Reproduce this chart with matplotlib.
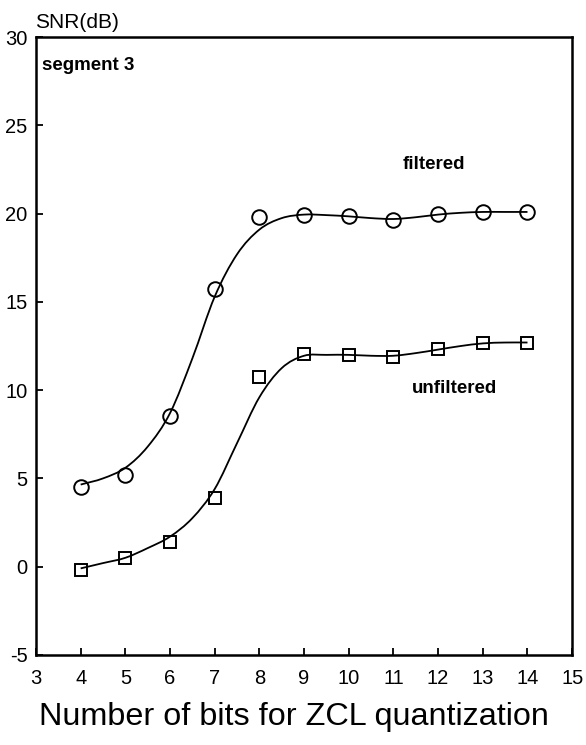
import numpy as np
import matplotlib.pyplot as plt
from matplotlib.path import Path
from matplotlib.patches import PathPatch

plt.rcParams['font.family'] = ['Liberation Sans', 'DejaVu Sans']
plt.rcParams['axes.unicode_minus'] = False

# measured SNR per number of bits
bits = [4, 5, 6, 7, 8, 9, 10, 11, 12, 13, 14]
snr_filt = [4.5, 5.2, 8.55, 15.75, 19.8, 19.95, 19.85, 19.65, 20.0, 20.1, 20.1]
snr_unfilt = [-0.2, 0.5, 1.4, 3.9, 10.75, 12.05, 12.0, 11.9, 12.35, 12.7, 12.7]

# hand-drawn fit curves, read at half-bit steps
curve_x = [4, 4.5, 5, 5.5, 6, 6.5, 7, 7.5, 8, 8.5, 9, 9.5, 10, 10.5, 11,
           11.5, 12, 12.5, 13, 13.5, 14]
curve_filt = [4.65, 5.0, 5.6, 6.8, 8.7, 11.8, 15.3, 17.7, 19.1, 19.75, 19.95,
              19.92, 19.85, 19.75, 19.7, 19.8, 19.95, 20.05, 20.1, 20.1, 20.1]
curve_unfilt = [-0.1, 0.2, 0.5, 1.05, 1.7, 2.75, 4.4, 7.0, 9.6, 11.25, 11.95,
                12.0, 12.0, 11.95, 11.95, 12.1, 12.3, 12.5, 12.65, 12.7, 12.7]


def smooth_path(xs, ys):
    # cubic hermite segments written as bezier curves
    x = np.asarray(xs, float)
    y = np.asarray(ys, float)
    n = len(x)
    m = np.empty(n)
    m[0] = (y[1] - y[0]) / (x[1] - x[0])
    m[-1] = (y[-1] - y[-2]) / (x[-1] - x[-2])
    m[1:-1] = (y[2:] - y[:-2]) / (x[2:] - x[:-2])
    verts = [(x[0], y[0])]
    codes = [Path.MOVETO]
    for i in range(n - 1):
        h = (x[i + 1] - x[i]) / 3.0
        verts += [(x[i] + h, y[i] + m[i] * h),
                  (x[i + 1] - h, y[i + 1] - m[i + 1] * h),
                  (x[i + 1], y[i + 1])]
        codes += [Path.CURVE4] * 3
    return Path(verts, codes)


fig = plt.figure(figsize=(5.86, 7.45), dpi=100)
ax = fig.add_axes([0.0614, 0.121, 0.915, 0.829])

for cy in (curve_filt, curve_unfilt):
    ax.add_patch(PathPatch(smooth_path(curve_x, cy), fill=False,
                           lw=1.3, color='black'))

ax.plot(bits, snr_filt, 'o', ms=10.5, mfc='none', mec='black', mew=1.4)
ax.plot(bits, snr_unfilt, 's', ms=8.5, mfc='none', mec='black', mew=1.4)

ax.set_xlim(3, 15)
ax.set_ylim(-5, 30)
ax.set_xticks(range(3, 16))
ax.set_yticks(range(-5, 31, 5))
ax.tick_params(direction='in', length=5, width=1.3, labelsize=14.5, pad=6,
               top=False, right=False)
ax.tick_params(axis='x', pad=10)
for s in ax.spines.values():
    s.set_linewidth(1.8)

fig.text(0.502, 0.038, 'Number of bits for ZCL quantization', fontsize=23.3,
         ha='center', va='center')
fig.text(0.06, 0.970, 'SNR(dB)', fontsize=15, ha='left', va='center')
ax.text(0.012, 0.955, 'segment 3', transform=ax.transAxes, fontsize=13.5,
        fontweight='bold', ha='left', va='center')
ax.text(11.9, 22.8, 'filtered', fontsize=13.5, fontweight='bold',
        ha='center', va='center')
ax.text(12.37, 10.1, 'unfiltered', fontsize=13.5, fontweight='bold',
        ha='center', va='center')

fig.savefig('out.png', dpi=100)
